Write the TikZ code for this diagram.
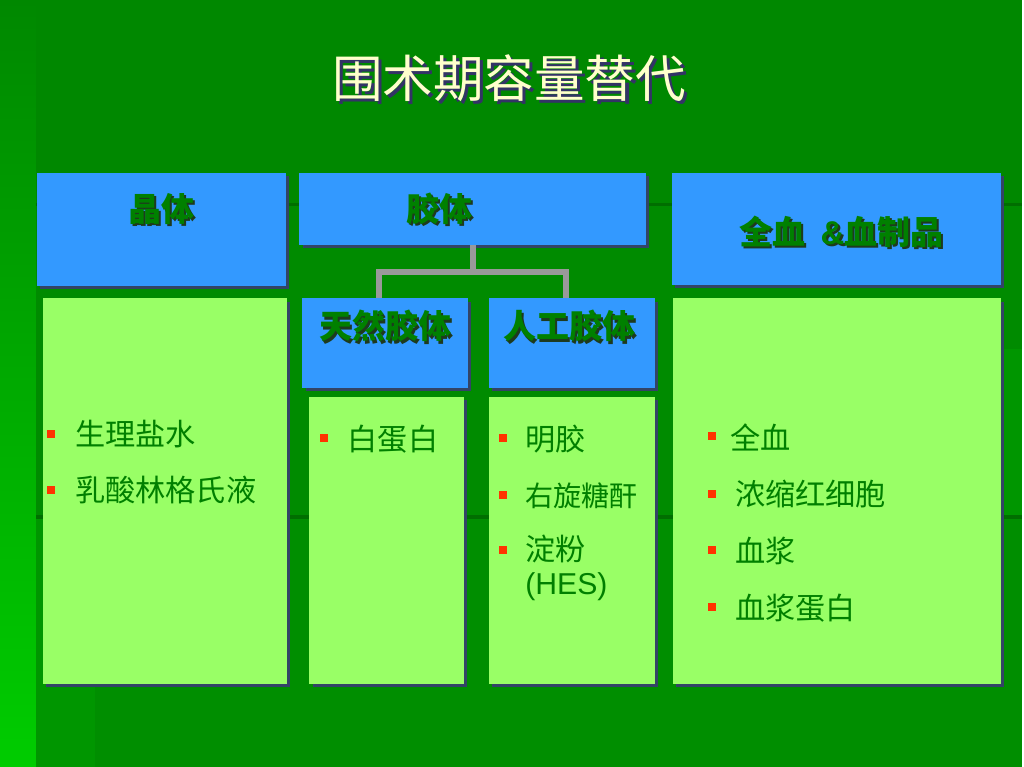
\documentclass[tikz,border=0pt]{standalone}
\usepackage{fontspec}
\setmainfont{Noto Sans CJK SC}
\newfontfamily\latinfont{Liberation Sans}
\usetikzlibrary{shadows}
\definecolor{slidegreen}{HTML}{008800}
\definecolor{panelgreen}{HTML}{008B00}
\definecolor{lowgreen}{HTML}{008E00}
\definecolor{stripgreen}{HTML}{009600}
\definecolor{edgegreen}{HTML}{006E00}
\definecolor{headblue}{HTML}{3399FF}
\definecolor{bodygreen}{HTML}{99FF66}
\definecolor{boxshade}{HTML}{334466}
\definecolor{textgreen}{HTML}{008000}
\definecolor{textshade}{HTML}{1E3A1E}
\definecolor{titlecream}{HTML}{FFFFCC}
\definecolor{titleshade}{HTML}{333366}
\definecolor{bulred}{HTML}{FF3300}
\definecolor{linkgray}{HTML}{999999}
\newcommand{\shadetext}[3]{\makebox[0pt][l]{\hspace*{#1}\raisebox{-#1}{\textcolor{#2}{#3}}}#3}
\tikzset{
  hbox/.style={fill=headblue, inner sep=0pt,
    drop shadow={shadow xshift=2.2pt, shadow yshift=-2.2pt, fill=boxshade, opacity=1}},
  bbox/.style={fill=bodygreen, inner sep=0pt,
    drop shadow={shadow xshift=2.2pt, shadow yshift=-2.2pt, fill=boxshade, opacity=1}},
  htext/.style={font=\fontsize{23.5}{26}\selectfont\bfseries, text=textgreen, inner sep=0pt},
  itext/.style={font=\fontsize{21.5}{24}\selectfont, text=textgreen, anchor=west,
    align=left, inner sep=0pt},
  bul/.style={fill=bulred, minimum size=0.2cm, inner sep=0pt},
  link/.style={draw=linkgray, line width=4.3pt},
}
\begin{document}
\begin{tikzpicture}[x=0.025cm, y=-0.025cm]
    % slide background
    \fill[slidegreen] (0,0) rectangle (1024,768);
    \fill[panelgreen] (36,205) rectangle (1024,518);
    \fill[lowgreen] (36,518) rectangle (1024,768);
    \fill[stripgreen] (36,518) rectangle (95,768);
    \fill[stripgreen] (1005,350) rectangle (1024,518);
    \draw[edgegreen, line width=2.5pt] (36,205) -- (1024,205);
    \draw[edgegreen, line width=2.5pt] (36,518) -- (1024,518);
    \shade[top color=slidegreen, bottom color=green!80!black] (0,0) rectangle (36,768);
    \useasboundingbox (0,0) rectangle (1024,768);

    \node[font=\fontsize{36}{40}\selectfont, text=titlecream, inner sep=0pt] (title)
      at (510,80) {\shadetext{2.2pt}{titleshade}{围术期容量替代}};

    % headings
    \node[hbox, minimum width=6.225cm, minimum height=2.825cm] (cryst) at (161.5,229.5) {};
    \node[hbox, minimum width=8.675cm, minimum height=1.8cm] (coll) at (473.5,209) {};
    \node[hbox, minimum width=8.25cm, minimum height=2.8cm] (blood) at (838,229) {};
    \node[hbox, minimum width=4.15cm, minimum height=2.25cm] (natc) at (386,344) {};
    \node[hbox, minimum width=4.15cm, minimum height=2.25cm] (artc) at (573,344) {};
    \node[htext] (crystlab) at (162,210) {\shadetext{1.6pt}{textshade}{晶体}};
    \node[htext] (colllab) at (440,210) {\shadetext{1.6pt}{textshade}{胶体}};
    \node[htext] (bloodlab) at (843,233) {\shadetext{1.6pt}{textshade}{全血\ \ {\latinfont\&}血制品}};
    \node[htext] (natclab) at (386,328) {\shadetext{1.6pt}{textshade}{天然胶体}};
    \node[htext] (artclab) at (570,328) {\shadetext{1.6pt}{textshade}{人工胶体}};

    \coordinate (fork) at (473.5,272);
    \draw[link] (coll.south) -- (fork);
    \draw[link] (fork) -| ([xshift=-0.17cm]natc.north);
    \draw[link] (fork) -| ([xshift=-0.15cm]artc.north);

    % lists
    \node[bbox, minimum width=6.1cm, minimum height=9.65cm] (crystbody) at (165,492) {};
    \node[bbox, minimum width=3.875cm, minimum height=7.175cm] (natbody) at (387.5,541.5) {};
    \node[bbox, minimum width=4.15cm, minimum height=7.175cm] (artbody) at (573,541.5) {};
    \node[bbox, minimum width=8.225cm, minimum height=9.65cm] (bloodbody) at (838.5,492) {};

    \node[bul] (b1) at (51,435) {};
    \node[itext] (saline) at (75,435) {生理盐水};
    \node[bul] (b2) at (51,491) {};
    \node[itext] (ringer) at (75,491) {乳酸林格氏液};

    \node[bul] (b3) at (325,439) {};
    \node[itext] (albumin) at (348,440) {白蛋白};

    \node[bul] (b4) at (504,439) {};
    \node[itext] (gelatin) at (526,440) {明胶};
    \node[bul] (b5) at (504,496) {};
    \node[itext, font=\fontsize{20}{22}\selectfont] (dextran) at (526,497) {右旋糖酐};
    \node[bul] (b6) at (504,551) {};
    \node[itext] (hes) at (526,568.5) {淀粉\\{\latinfont(HES)}};

    \node[bul] (b7) at (713,437) {};
    \node[itext] (wholeb) at (731,438) {全血};
    \node[bul] (b8) at (713,495) {};
    \node[itext] (rbc) at (736,495) {浓缩红细胞};
    \node[bul] (b9) at (713,551) {};
    \node[itext] (plasma) at (736,552) {血浆};
    \node[bul] (b10) at (713,608) {};
    \node[itext] (plprot) at (736,609) {血浆蛋白};
  \end{tikzpicture}
\end{document}
